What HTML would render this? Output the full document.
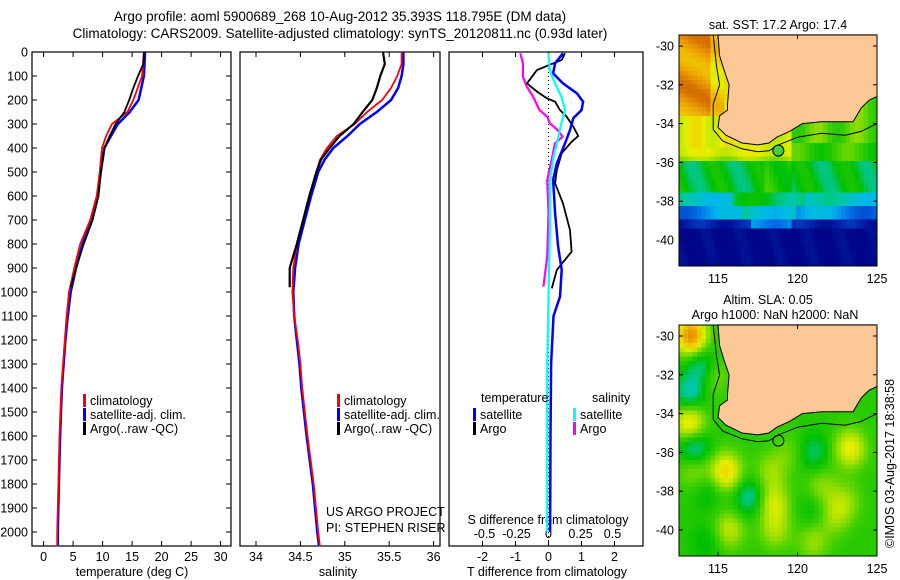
<!DOCTYPE html>
<html><head><meta charset="utf-8"><style>
body{margin:0;background:#fff}
svg{display:block;font-family:"Liberation Sans",sans-serif}
text{font-size:12.5px;fill:#000}
</style></head><body>
<svg id="fig" width="900" height="580" viewBox="0 0 900 580">
<text x="340" y="21" text-anchor="middle" style="font-size:13.5px">Argo profile: aoml 5900689_268 10-Aug-2012 35.393S 118.795E (DM data)</text>
<text x="340" y="38" text-anchor="middle" style="font-size:13.5px">Climatology: CARS2009. Satellite-adjusted climatology: synTS_20120811.nc (0.93d later)</text>
<g id="g"></g>
</svg>
<script>
// ---- data ----
const tRedD=[0,100,200,250,300,350,400,500,600,700,800,900,1000,1100,1200,1400,1600,1800,2000,2060];
const tRed=[17.0,16.7,15.2,14.2,11.6,10.6,9.9,9.5,9.0,7.9,6.2,5.2,4.3,3.9,3.6,3.0,2.7,2.5,2.3,2.3];
const tBlue=[17.2,17.0,16.1,14.6,12.6,11.4,10.3,9.7,9.2,8.2,6.6,5.5,4.6,4.1,3.7,3.1,2.8,2.6,2.4,2.4];
const tArgoD=[0,50,100,150,200,250,300,350,400,500,600,700,800,900,980];
const tArgo=[17.0,16.9,16.0,15.2,14.5,13.7,12.2,11.2,10.3,9.7,9.3,8.3,6.8,5.5,4.6];
const sClimD=[0,50,100,150,200,250,300,350,400,450,500,600,700,800,900,1000,1100,1200,1300,1400,1600,1800,2000,2060];
const sRed=[35.64,35.64,35.59,35.52,35.42,35.25,35.11,34.91,34.80,34.72,34.68,34.60,34.53,34.46,34.42,34.41,34.43,34.47,34.50,34.52,34.58,34.65,34.70,34.72];
const sBlue=[35.66,35.66,35.64,35.60,35.52,35.36,35.17,35.03,34.87,34.77,34.70,34.62,34.55,34.48,34.44,34.42,34.43,34.46,34.49,34.51,34.57,34.64,34.69,34.71];
const sArgoD=[0,50,100,150,200,250,300,350,400,450,500,600,700,800,900,980];
const sArgo=[35.43,35.45,35.40,35.36,35.31,35.20,35.10,34.94,34.83,34.73,34.68,34.60,34.53,34.46,34.38,34.38];
const dTsD=[5,47,89,131,172,207,242,276,325,381,464,533,672,811,908,1019,1100,1300,1600,2000];
const dTsat=[0.44,0.2,0.14,0.44,0.86,1.05,1.0,0.75,0.65,0.5,0.25,0.14,0.2,0.29,0.4,0.35,0.15,0.08,0.06,0.05];
const dTaD=[5,33,75,131,165,193,207,242,269,311,350,374,422,492,547,631,742,832,908,985];
const dTargo=[0.5,0.4,-0.35,-0.65,-0.35,-0.05,0.2,0.35,0.55,0.75,0.9,0.7,0.4,0.25,0.2,0.44,0.65,0.7,0.25,0.1];
const dSaD=[5,47,103,144,186,221,242,269,297,325,353,381,436,533,672,853,978];
const dSargo=[-0.22,-0.2,-0.2,-0.17,-0.12,-0.09,-0.07,-0.01,0.01,0.07,0.11,0.05,0.03,-0.01,0,-0.01,-0.04];
const dSsD=[5,75,131,186,242,297,367,436,533,742,1019,1300,1600,2000];
const dSsat=[0,0.01,0.05,0.1,0.13,0.1,0.07,0.04,0.01,0.01,0,-0.01,-0.01,-0.01];
const depthTicks=[0,100,200,300,400,500,600,700,800,900,1000,1100,1200,1300,1400,1500,1600,1700,1800,1900,2000];
const tTicks=[0,5,10,15,20,25,30];
const sTicks=[34,34.5,35,35.5,36];
const dtTicks=[-2,-1,0,1,2];
const dsTicks=[-0.5,-0.25,0,0.25,0.5];
const lonTicks=[115,120,125];
const latTicks=[-30,-32,-34,-36,-38,-40];

const NS='http://www.w3.org/2000/svg';
const G=document.getElementById('g');
function mk(tag,at,parent){const e=document.createElementNS(NS,tag);for(const k in at)e.setAttribute(k,at[k]);(parent||G).appendChild(e);return e;}
const yD=d=>52+0.24*d;
const xT=t=>43.6+5.9*t, xS=s=>256+88.8*(s-34), xDT=v=>548.5+33*v, xDS=v=>548.5+128*v;
const TOP=52,BOT=546;

function panel(x0,x1,name){
 const r=mk('rect',{x:x0,y:TOP,width:x1-x0,height:BOT-TOP,fill:'none',stroke:'#000','stroke-width':1.2});
 
 
}
panel(32,231,'temperature-panel');panel(240,440,'salinity-panel');panel(449,643,'difference-panel');

depthTicks.forEach(d=>{
 const y=yD(d);
 mk('line',{x1:32,x2:37,y1:y,y2:y,stroke:'#000'});
 mk('line',{x1:226,x2:231,y1:y,y2:y,stroke:'#000'});
 const t=mk('text',{x:28,y:y+4.5,'text-anchor':'end'});t.textContent=d;
 
 
});
function xticks(vals,fx,y,lab){vals.forEach(v=>{const x=fx(v);
 mk('line',{x1:x,x2:x,y1:TOP,y2:TOP+5,stroke:'#000'});
 mk('line',{x1:x,x2:x,y1:BOT,y2:BOT-5,stroke:'#000'});
 if(lab){const t=mk('text',{x:x,y:y,'text-anchor':'middle'});t.textContent=v;
 
 }});}
xticks(tTicks,xT,561,true);xticks(sTicks,xS,561,true);xticks(dtTicks,xDT,561,true);
dsTicks.forEach(v=>{const t=mk('text',{x:xDS(v),y:538,'text-anchor':'middle'});t.textContent=v;
 
 });
function lab(x,y,s,name,anchor){const t=mk('text',{x:x,y:y,'text-anchor':anchor||'middle'});t.textContent=s;
 
 return t;}
lab(132,576,'temperature (deg C)','x-axis-title-temperature');
lab(338,576,'salinity','x-axis-title-salinity');
lab(547,576,'T difference from climatology','x-axis-title-t-diff');
lab(548,524,'S difference from climatology','s-diff-axis-title');
lab(326,516,'US ARGO PROJECT','project-label','start');
lab(326,532,'PI: STEPHEN RISER','pi-label','start');
mk('line',{x1:548.5,x2:548.5,y1:TOP,y2:BOT,stroke:'#000','stroke-dasharray':'1,3'});

function line(ds,vs,fx,col,w,name){
 const p=ds.map((d,i)=>fx(vs[i]).toFixed(1)+','+yD(d).toFixed(1)).join(' ');
 const e=mk('polyline',{points:p,fill:'none',stroke:col,'stroke-width':w});
 
 
}
line(tRedD,tBlue,xT,'#0000ff',2.5,'temp-satellite-clim');
line(tRedD,tRed,xT,'#ff0000',1.8,'temp-climatology');
line(tArgoD,tArgo,xT,'#000',1.8,'temp-argo');
line(sClimD,sBlue,xS,'#0000ff',2.5,'sal-satellite-clim');
line(sClimD,sRed,xS,'#ff0000',1.8,'sal-climatology');
line(sArgoD,sArgo,xS,'#000',2.2,'sal-argo');
line(dSaD,dSargo,xDS,'#ff00ff',2.2,'s-diff-argo');
line(dTaD,dTargo,xDT,'#000',1.8,'t-diff-argo');
line(dTsD,dTsat,xDT,'#0000ff',2.5,'t-diff-satellite');
line(dSsD,dSsat,xDS,'#00ffff',2.2,'s-diff-satellite');

function legend(x,y,items,prefix){items.forEach((it,i)=>{const yy=y+i*14;
 mk('rect',{x:x,y:yy-10,width:3,height:13,fill:it[1]});
 lab(x+7,yy+1,it[0],prefix+'-legend-entry','start');});}
legend(83,404,[['climatology','#f00'],['satellite-adj. clim.','#00f'],['Argo(..raw -QC)','#000']],'temp');
legend(337,404,[['climatology','#f00'],['satellite-adj. clim.','#00f'],['Argo(..raw -QC)','#000']],'sal');
lab(481,402,'temperature','diff-legend-temp-header','start');
lab(592,402,'salinity','diff-legend-sal-header','start');
legend(473,418,[['satellite','#00f'],['Argo','#000']],'tdiff');
legend(573,418,[['satellite','#0ff'],['Argo','#f0f']],'sdiff');

// ---- maps ----
const coast=[[115.0,-29.43],[115.1,-30.5],[115.4,-31.3],[115.7,-32.0],[115.6,-33.0],[115.6,-33.3],[115.1,-33.6],[115.0,-34.2],[115.5,-34.6],[116.5,-35.0],[117.5,-35.1],[118.2,-35.0],[118.7,-34.7],[119.5,-34.4],[120.3,-34.0],[121.5,-33.9],[122.5,-33.9],[123.5,-33.9],[124.0,-33.2],[124.5,-32.8],[125,-32.6],[125,-29.43]];
const iso=[[114.7,-29.43],[114.9,-31.0],[115.1,-32.0],[114.7,-33.0],[114.7,-34.3],[115.3,-34.9],[116.5,-35.3],[117.5,-35.45],[118.2,-35.4],[118.8,-35.1],[120,-34.7],[121.5,-34.5],[123,-34.6],[124,-34.4],[125,-34.0]];
const pal=['#000080','#0028b0','#0070e8','#00b8e8','#00c8a8','#00c000','#40d000','#a0e000','#e8f000','#f0c000','#e89000','#c85800'];
const palRGB=pal.map(h=>[1,3,5].map(i=>parseInt(h.substr(i,2),16)));
function colorOf(v){v=Math.max(0,Math.min(pal.length-1.001,v));const i=Math.floor(v),f=v-i;
 const a=palRGB[i],b=palRGB[i+1];return 'rgb('+a.map((c,k)=>Math.round(c+(b[k]-c)*f)).join(',')+')';}
function drawMap(y0,y1,field,name,title1,title2,circleFill){
 const X0=679,X1=877;
 const lonX=l=>718+(l-115)*15.9;
 const latY=a=>(y0+11)+(-30-a)*19.4;
 const g=mk('g',{});
 const step=4.5;
 for(let x=X0;x<X1;x+=step)for(let y=y0;y<y1;y+=step){
  const lon=115+(x+step/2-718)/15.9, lat=-30-(y+step/2-y0-11)/19.4;
  mk('rect',{x:x,y:y,width:Math.min(step,X1-x)+0.3,height:Math.min(step,y1-y)+0.3,fill:colorOf(field(lon,lat))},g);
 }
 const pc=coast.map(p=>lonX(p[0]).toFixed(1)+','+latY(p[1]).toFixed(1)).join(' ');
 mk('polygon',{points:pc,fill:'#fcc896',stroke:'#000','stroke-width':1},g);
 mk('polyline',{points:iso.map(p=>lonX(p[0]).toFixed(1)+','+latY(p[1]).toFixed(1)).join(' '),fill:'none',stroke:'#000','stroke-width':1},g);
 mk('rect',{x:X0,y:y0,width:X1-X0,height:y1-y0,fill:'none',stroke:'#000'},g);
 const c=mk('circle',{cx:lonX(118.795),cy:latY(-35.393),r:5.5,fill:circleFill,stroke:'#000'},g);
 
 lonTicks.forEach(l=>{const x=lonX(l);mk('line',{x1:x,x2:x,y1:y0,y2:y0+4,stroke:'#000'},g);mk('line',{x1:x,x2:x,y1:y1,y2:y1-4,stroke:'#000'},g);
  lab(x,y1+17,l,'map-lon-label');});
 latTicks.forEach(a=>{const y=latY(a);mk('line',{x1:X0,x2:X0+4,y1:y,y2:y,stroke:'#000'},g);mk('line',{x1:X1,x2:X1-4,y1:y,y2:y,stroke:'#000'},g);
  lab(674,y+4.5,a,'map-lat-label','end');});
 if(title2){lab(768,y0-21,title1,'map-title');lab(775,y0-6,title2,'map-subtitle');}
 else lab(778,y0-6,title1,'map-title');
}
function sst(lon,lat){
 let v;
 if(lon<115.3&&lat>-33.6){v=9.8+0.8*Math.sin(lat*2.1+lon)+(lon>114.6?-1.2:0);}
 else if(lat>-35.2&&lon<116.5){v=8+0.5*Math.sin(lon*3);}
 else if(lat>-35.9&&lon<119.5){v=(lat>-35.6?7.8:7)+0.4*Math.sin(lon*2);}
 else if(lat>-35.0){v=6.2+0.6*Math.sin(lon*2.5);}
 else if(lat>-36.0){v=5.8+0.6*Math.sin(lon*1.9)+(lon>118&&lon<119.5?1.3:0);}
 else if(lat>-37.5){v=4.8+0.6*Math.sin(lon*2.3+lat)+(lon>117.8&&lon<119.5?0.7:0);}
 else if(lat>-38.3){v=3.6+0.6*Math.sin(lon*1.3)+(lon>116&&lon<120.5?1:0);}
 else if(lat>-39.0){v=2.4+0.8*Math.sin(lon*1.1)+(lon>116.5&&lon<120?1.3:0);}
 else if(lat>-39.5){v=0.8+(lon>117&&lon<119.5?1.5:0)+0.4*Math.sin(lon*2);}
 else v=0.15+0.3*Math.max(0,Math.sin(lon*3+lat));
 return v;
}
const blobs=[[113.3,-30,4.5],[114.0,-31.5,-1.8],[113.2,-33,-1.8],[113.2,-34.5,3],[113.5,-35.8,-2.3],[115.5,-37,3],[114.4,-38,-0.8],[117,-38.3,-1.7],[118.5,-38.6,2],[118.3,-37,1.3],[118.6,-40,1.5],[121,-36,-1.3],[123.3,-35.8,2.5],[121.5,-37.8,1.2],[122.3,-39.3,1.3],[115.7,-40,1.8],[114.8,-32,1.2],[119.5,-36,0.8],[123,-38.5,1.2],[121,-40.6,1.3],[121,-39,-0.8],[114.3,-40.6,-0.8],[113.5,-36.8,1.5]];
function sla(lon,lat){let v=5.6;blobs.forEach(b=>{const d2=((lon-b[0])/1.0)**2+((lat-b[1])/1.0)**2;v+=b[2]*Math.exp(-d2);});return v;}
drawMap(35,266,sst,'sst-map','sat. SST: 17.2 Argo: 17.4',null,'#40d040');
drawMap(325,556,sla,'sla-map','Altim. SLA: 0.05','Argo h1000: NaN h2000: NaN','none');
const cp=mk('text',{x:894,y:548,transform:'rotate(-90 894 548)'});cp.textContent='©IMOS 03-Aug-2017 18:38:58';


</script>
</body></html>
